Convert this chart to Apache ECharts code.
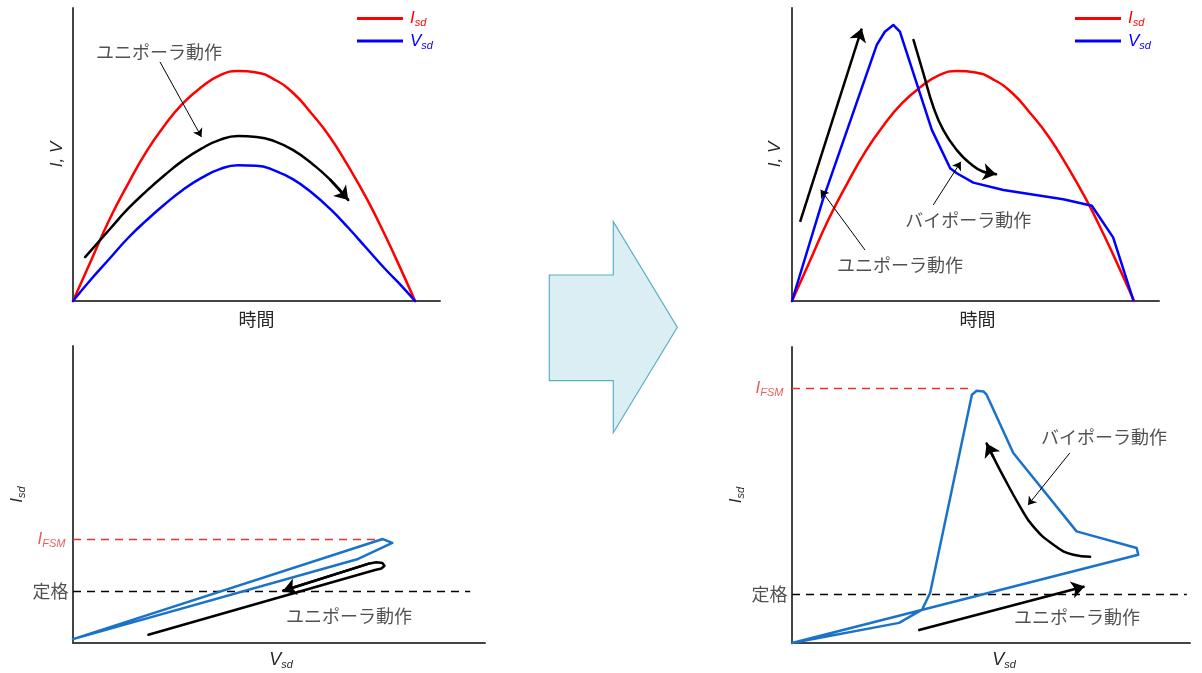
<!DOCTYPE html>
<html><head><meta charset="utf-8">
<script src="https://cdn.jsdelivr.net/npm/echarts@6/dist/echarts.min.js"></script>
<style>html,body{margin:0;padding:0;background:#fff}#c{width:1202px;height:673px}</style>
</head><body><div id="c"></div>
<script>
// ---------- data (chart units: x 0..100, y 0..100 in each panel) ----------
const isdCurve = [[0,0],[5,14],[10,28],[15,40],[20,51],[25,60],[30,67.5],[35,73],[40,77],[45,78.5],[50,78],[55,75.5],[60,71],[65,64],[70,56],[75,46],[80,35],[85,22.5],[90,9],[93.2,0]];
const vsdUnipolar = [[0,0],[5,7.5],[10,14.5],[15,21.5],[20,27.5],[25,33],[30,38],[35,42],[40,45],[45,46.3],[50,46.2],[55,44.5],[60,41.5],[65,37],[70,31.5],[75,25],[80,18],[85,11],[90,4.5],[93.2,0]];
const vsdBipolar = [[0,0],[8.4,34.5],[23.1,87.4],[25.3,91.9],[27.6,94.2],[29.4,91.9],[31.3,84.6],[38.1,58.4],[43.1,45.3],[44.9,43.6],[49.4,40.4],[57.6,37.9],[73.9,34.7],[81.7,32.5],[87.5,21.7],[93.0,0.3]];
const loopUnipolar = [[0,1.3],[75.2,35.0],[77.5,33.7],[69.2,28.3],[0,1.3]];
const loopBipolar = [[0,0],[26.9,6.8],[32.7,11.3],[34.7,16.9],[45.2,83.9],[46.4,85.2],[48.1,85.0],[48.9,83.9],[55.6,64.2],[71.5,37.7],[86.6,32.1],[87.0,29.8],[0,0]];

const ifsmLeft = 35.0, ifsmLeftEnd = 75.2, ratedLeft = 17.4, ratedLeftEnd = 96.4;
const ifsmRight = 85.9, ifsmRightEnd = 45.2, ratedRight = 16.6, ratedRightEnd = 99.2;

// annotation arrows (curves and straight)
const arcTopLeft = [[3.3,15],[10,24.5],[15,31.5],[20,37.5],[25,43],[30,48],[35,52],[40,55],[45,56.3],[50,56],[55,54.5],[60,51.5],[65,47],[70,41.5],[75,34.5]];
const arcTopRight = [[33.1,89.1],[35.8,77.7],[38.5,66.3],[41.2,58.4],[44.9,51.5],[48.5,47.0],[52.1,44.1],[55.6,43.3]];
const hairpinBottomLeft = [[18.3,2.8],[73.3,24.6],[74.9,25.1],[75.6,26.0],[75.1,26.9],[73.6,27.2],[72,26.8],[51,17.6]];
const arcBottomRight = [[74.9,29.1],[70.7,29.8],[65.7,33.2],[60.6,39.4],[57.3,46.1],[53.1,56.3],[50.6,62.8],[48.9,67.4]];
const arrowUpTopRight = [[2.2,27.0],[19.0,93.0]];
const arrowBottomRight = [[31.7,4.3],[73.5,19.1]];
const pointerTopLeft = [[23.7,81.6],[35.0,56.0]];
const pointerTopRightUni = [[19.9,17.4],[7.8,38.0]];
const pointerTopRightBi = [[38.5,32.8],[46.0,47.5]];
const pointerBottomRightBi = [[69.8,64.2],[59.3,46.6]];

const labelUni = 'ユニポーラ動作', labelBi = 'バイポーラ動作';
const textTopLeft = [[23.4,85.0,labelUni]];
const textTopRight = [[48.0,27.6,labelBi],[29.4,12.3,labelUni]];
const textBottomLeft = [[67.0,8.9,labelUni]];
const textBottomRight = [[78.4,69.4,labelBi],[71.6,8.6,labelUni]];

// ---------- chart ----------
const JP = '"Noto Sans CJK JP","Noto Sans",sans-serif';
const LAT = '"Liberation Sans","DejaVu Sans",sans-serif';
const TXT = '#262626';
const AX = '#444444';
const RED = '#ff0000', BLUE = '#0000ff', LOOP = '#1a73c8', FSM = '#e53333';

function rich(color, big){
  return {
    i:{fontFamily:LAT,fontStyle:'italic',fontSize:big||17,color:color,lineHeight:20},
    s:{fontFamily:LAT,fontStyle:'italic',fontSize:11,color:color,lineHeight:12,verticalAlign:'bottom'}
  };
}

const grids = [
  {left:73, top:8, width:367, height:293},
  {left:792, top:8, width:367, height:293},
  {left:73, top:346, width:412, height:297},
  {left:792, top:347, width:398, height:296}
];
const xNames = [
  {name:'時間', gap:9, style:{fontFamily:JP,fontSize:18,color:TXT}},
  {name:'時間', gap:9, style:{fontFamily:JP,fontSize:18,color:TXT,padding:[0,0,0,4]}},
  {name:'{i|V}{s|sd}', gap:7, style:{rich:rich(TXT,18),padding:[0,0,0,4]}},
  {name:'{i|V}{s|sd}', gap:7, style:{rich:rich(TXT,18),padding:[0,0,0,26]}}
];
const yNames = [
  {name:'I, V', gap:7, style:{fontFamily:LAT,fontStyle:'italic',fontSize:17,color:TXT}},
  {name:'I, V', gap:8, style:{fontFamily:LAT,fontStyle:'italic',fontSize:17,color:TXT}},
  {name:'{i|I}{s|sd}', gap:46, style:{rich:rich(TXT,17)}},
  {name:'{i|I}{s|sd}', gap:46, style:{rich:rich(TXT,17)}}
];
const baseAxis = {type:'value',min:0,max:100,axisTick:{show:false},axisLabel:{show:false},splitLine:{show:false},
  axisLine:{show:true,onZero:false,lineStyle:{color:AX,width:2}},nameLocation:'middle'};
const xAxis = grids.map((g,i)=>Object.assign({},baseAxis,{gridIndex:i,name:xNames[i].name,nameGap:xNames[i].gap,nameTextStyle:xNames[i].style}));
const yAxis = grids.map((g,i)=>Object.assign({},baseAxis,{gridIndex:i,name:yNames[i].name,nameGap:yNames[i].gap,nameRotate:90,nameTextStyle:yNames[i].style}));

const series = [];
function curve(gi,name,data,color,width,smooth,z){
  series.push({type:'line',name:name,xAxisIndex:gi,yAxisIndex:gi,data:data,showSymbol:false,symbol:'none',smooth:smooth||false,
    clip:false,lineStyle:{color:color,width:width,join:'round',cap:'round'},itemStyle:{color:color},z:z||2,silent:true});
}
function arrows(gi,list,width,size){
  series.push({type:'lines',coordinateSystem:'cartesian2d',xAxisIndex:gi,yAxisIndex:gi,
    data:list.map(c=>({coords:c})),symbol:['none','arrow'],symbolSize:size,
    lineStyle:{color:'#000',width:width,opacity:1,curveness:0},z:5,silent:true});
}
function dashed(gi,list){
  series.push({type:'lines',coordinateSystem:'cartesian2d',xAxisIndex:gi,yAxisIndex:gi,
    data:list.map(d=>({coords:d.c,lineStyle:{color:d.color}})),symbol:'none',
    lineStyle:{width:1.3,type:[8,6],opacity:1},z:1,silent:true});
}
function texts(gi,list,extra){
  const data = list.map(t=>({value:[t[0],t[1]],name:t[2]}));
  (extra||[]).forEach(e=>data.push(e));
  series.push({type:'scatter',xAxisIndex:gi,yAxisIndex:gi,symbolSize:1,itemStyle:{color:'rgba(0,0,0,0)'},
    data:data,silent:true,z:6,
    label:{show:true,position:'inside',formatter:'{b}',fontFamily:JP,fontSize:18,color:TXT}});
}
function lastSeg(c){return [c[c.length-2],c[c.length-1]];}

// panel 0: unipolar waveform
curve(0,'Isd',isdCurve,RED,2.5,true);
curve(0,'Vsd',vsdUnipolar,BLUE,2.5,true);
curve(0,'arc0',arcTopLeft,'#000',2.5,true,4);
arrows(0,[lastSeg(arcTopLeft)],2.5,13);
arrows(0,[pointerTopLeft],1,8);
texts(0,textTopLeft);

// panel 1: bipolar waveform
curve(1,'Isd',isdCurve,RED,2.5,true);
curve(1,'Vsd',vsdBipolar,BLUE,2.5,false);
curve(1,'arc1',arcTopRight,'#000',2.5,true,4);
arrows(1,[lastSeg(arcTopRight),arrowUpTopRight],2.5,13);
arrows(1,[pointerTopRightUni,pointerTopRightBi],1,8);
texts(1,textTopRight);

// panel 2: unipolar I-V
dashed(2,[{c:[[0,ifsmLeft],[ifsmLeftEnd,ifsmLeft]],color:FSM},{c:[[0,ratedLeft],[ratedLeftEnd,ratedLeft]],color:'#000'}]);
curve(2,'loop2',loopUnipolar,LOOP,2.5,false);
curve(2,'hair2',hairpinBottomLeft,'#000',2.5,false,4);
arrows(2,[lastSeg(hairpinBottomLeft)],2.5,13);
texts(2,textBottomLeft,[
  {value:[0,ifsmLeft],name:'IFSM',label:{position:'left',distance:7,formatter:'{i|I}{s|FSM}',rich:rich(FSM,17)}},
  {value:[0,ratedLeft],name:'定格',label:{position:'left',distance:4}}
]);

// panel 3: bipolar I-V
dashed(3,[{c:[[0,ifsmRight],[ifsmRightEnd,ifsmRight]],color:FSM},{c:[[0,ratedRight],[ratedRightEnd,ratedRight]],color:'#000'}]);
curve(3,'loop3',loopBipolar,LOOP,2.5,false);
curve(3,'arc3',arcBottomRight,'#000',2.5,true,4);
arrows(3,[lastSeg(arcBottomRight),arrowBottomRight],2.5,13);
arrows(3,[pointerBottomRightBi],1,8);
texts(3,textBottomRight,[
  {value:[0,ifsmRight],name:'IFSM',label:{position:'left',distance:8,formatter:'{i|I}{s|FSM}',rich:rich(FSM,17)}},
  {value:[0,ratedRight],name:'定格',label:{position:'left',distance:4}}
]);

const legendBase = {orient:'vertical',top:10,padding:0,itemGap:4,itemWidth:46,itemHeight:3,icon:'rect',
  data:['Isd','Vsd'],selectedMode:false,
  formatter:n=> n==='Isd' ? '{ri|I}{rs|sd}' : '{bi|V}{bs|sd}',
  textStyle:{padding:[0,0,0,2],rich:{
    ri:rich(RED).i, rs:rich(RED).s, bi:rich(BLUE).i, bs:rich(BLUE).s}}};

const option = {
  animation:false,
  backgroundColor:'#ffffff',
  grid:grids,
  xAxis:xAxis,
  yAxis:yAxis,
  legend:[Object.assign({left:357},legendBase),Object.assign({left:1075},legendBase)],
  graphic:[{type:'polygon',silent:true,
    shape:{points:[[549.3,275],[613.3,275],[613.3,221.7],[677.3,327.3],[613.3,432.7],[613.3,380.7],[549.3,380.7]]},
    style:{fill:'#daeef3',stroke:'#5aaec8',lineWidth:1.2}}],
  series:series
};
const chart = echarts.init(document.getElementById('c'));
chart.setOption(option);
</script></body></html>
